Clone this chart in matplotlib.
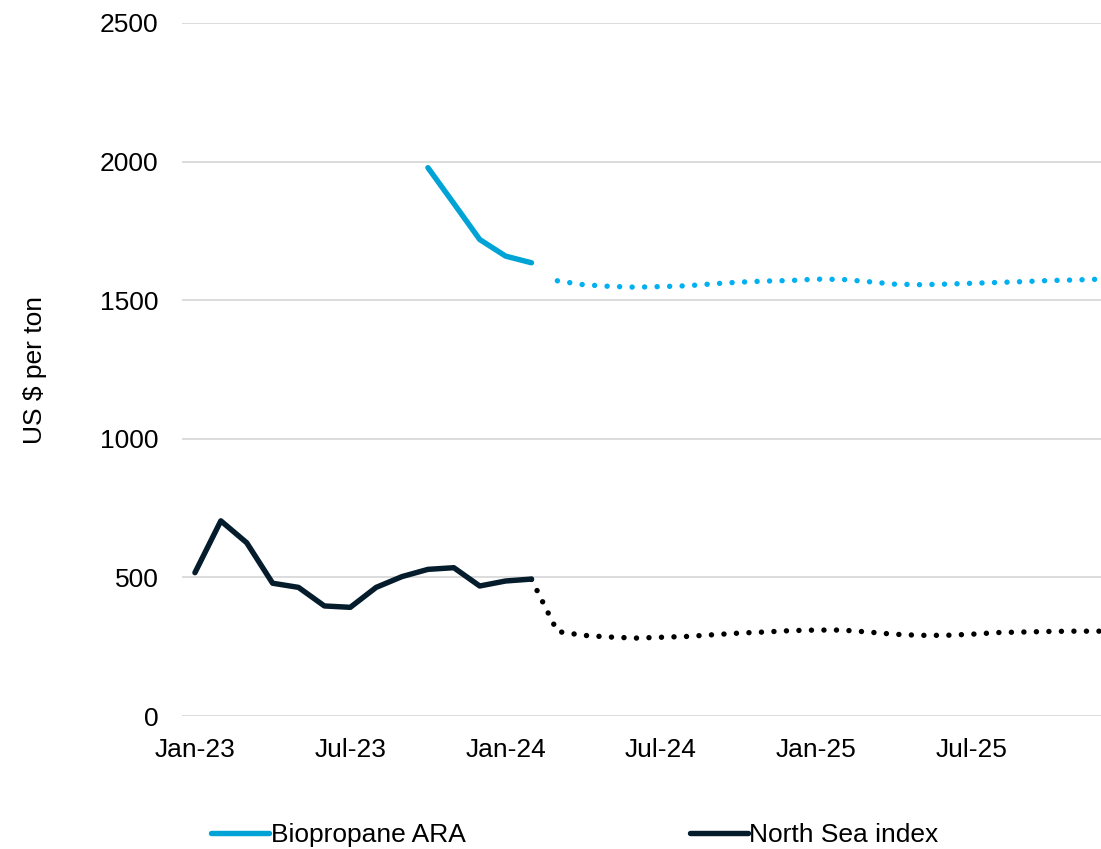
import numpy as np
import pandas as pd
from matplotlib import pyplot as plt

plt.rcParams['font.family'] = ['Liberation Sans', 'DejaVu Sans']

# ---- data (US $ per ton, monthly) ----
months = pd.date_range('2023-01-01', '2025-12-01', freq='MS')
month_labels = [d.strftime('%b-%y') for d in months]

# North Sea index: actual Jan-23..Feb-24, forecast Feb-24..Dec-25
north_sea_actual = [517, 704, 625, 479, 464, 397, 392, 464, 503, 529, 535, 469, 487, 494]
north_sea_forecast = [493, 305, 291, 285, 281, 284, 287, 293, 299, 303, 308, 310,
                      310, 303, 295, 291, 291, 295, 301, 303, 305, 306, 306]

# Biopropane ARA: actual Oct-23..Feb-24, forecast Mar-24..Dec-25
bio_actual = [1978, 1849, 1719, 1659, 1635]
bio_forecast = [1570, 1556, 1550, 1547, 1549, 1552, 1559, 1565, 1569, 1571, 1576,
                1575, 1567, 1558, 1556, 1558, 1561, 1564, 1567, 1571, 1573, 1576]

x = np.arange(len(months))
ns_a_x = x[:len(north_sea_actual)]
ns_f_x = x[len(north_sea_actual) - 1:]
bio_a_x = x[9:9 + len(bio_actual)]
bio_f_x = x[9 + len(bio_actual):]

fig = plt.figure(figsize=(11.01, 8.49), dpi=100)
ax = fig.add_axes([182 / 1101, 1 - 716 / 849, 1 - 182 / 1101, (716 - 23) / 849])

dots = (0, (0.01, 2.3))
ax.plot(ns_f_x, north_sea_forecast, color='black', lw=3.9, linestyle=dots,
        dash_capstyle='round')
ax.plot(bio_f_x, bio_forecast, color='#00B0F0', lw=3.9, linestyle=dots,
        dash_capstyle='round')
l1, = ax.plot(bio_a_x, bio_actual, color='#00A3D6', lw=3.9,
              solid_capstyle='round', solid_joinstyle='round', label='Biopropane ARA')
l2, = ax.plot(ns_a_x, north_sea_actual, color='#051C2C', lw=3.9,
              solid_capstyle='round', solid_joinstyle='round', label='North Sea index')

ax.set_xlim(-0.5, 35.0)
ax.set_ylim(0, 2500)
ax.set_yticks(np.arange(0, 2501, 500))
ax.set_xticks(x[::6])
ax.set_xticklabels(month_labels[::6])
ax.grid(axis='y', color='#D9D9D9', lw=1.3)
ax.set_axisbelow(True)
for s in ax.spines.values():
    s.set_visible(False)
ax.tick_params(axis='y', length=0, pad=17, labelsize=19)
ax.tick_params(axis='x', length=0, pad=16, labelsize=19)
ax.set_ylabel('US $ per ton', fontsize=19, labelpad=38)

fig.legend(handles=[l1, l2], loc='center', bbox_to_anchor=(575 / 1101, 1 - 835 / 849),
           ncol=2, frameon=False, fontsize=19, handlelength=2.2, handletextpad=0.05,
           columnspacing=8.5, borderpad=0)

fig.savefig('out.png', dpi=100)
